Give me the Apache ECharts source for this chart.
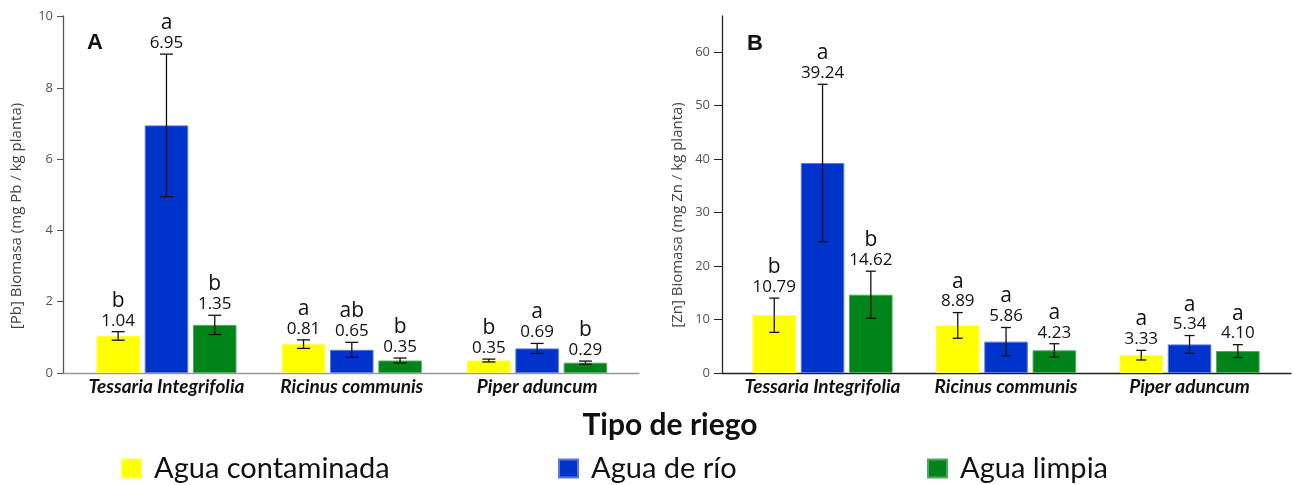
<!DOCTYPE html>
<html><head><meta charset="utf-8">
<script src="https://cdn.jsdelivr.net/npm/echarts@6/dist/echarts.min.js"></script>
<style>html,body{margin:0;padding:0;background:#fff}#c{width:1294px;height:485px}</style>
</head><body><div id="c"></div>
<script>
// ---------- data ----------
const categories = ['Tessaria Integrifolia', 'Ricinus communis', 'Piper aduncum'];
const seriesNames = ['Agua contaminada', 'Agua de río', 'Agua limpia'];
const seriesColors = ['#FFFF00', '#0033CC', '#008318'];
const seriesBorders = ['#FFFF40', '#5a78dd', '#4fa860'];

// Panel A: [Pb]
const pbContaminada = [1.04, 0.81, 0.35];
const pbRio = [6.95, 0.65, 0.69];
const pbLimpia = [1.35, 0.35, 0.29];
const pbErrContaminada = [0.12, 0.12, 0.04];
const pbErrRio = [2.0, 0.21, 0.14];
const pbErrLimpia = [0.27, 0.07, 0.045];
const pbLetContaminada = ['b', 'a', 'b'];
const pbLetRio = ['a', 'ab', 'a'];
const pbLetLimpia = ['b', 'b', 'b'];
const pbTicks = [0, 2, 4, 6, 8, 10];

// Panel B: [Zn]
const znContaminada = [10.79, 8.89, 3.33];
const znRio = [39.24, 5.86, 5.34];
const znLimpia = [14.62, 4.23, 4.10];
const znErrContaminada = [3.2, 2.4, 0.9];
const znErrRio = [14.7, 2.64, 1.66];
const znErrLimpia = [4.4, 1.24, 1.2];
const znLetContaminada = ['b', 'a', 'a'];
const znLetRio = ['a', 'a', 'a'];
const znLetLimpia = ['b', 'a', 'a'];
const znTicks = [0, 10, 20, 30, 40, 50, 60];

// ---------- style constants ----------
const BAR_W = 43.5;
const BAR_GAP = 0.11;
const PB_MAX = 10.02;
const ZN_MAX = 66.7;
const TOP = 16;
const BOTTOM = 112;

const chart = echarts.init(document.getElementById('c'), null, {renderer: 'canvas'});

function barSeries(idx, values, axisIdx) {
  return {
    type: 'bar', name: seriesNames[idx], data: values,
    xAxisIndex: axisIdx, yAxisIndex: axisIdx,
    barWidth: BAR_W, barGap: (BAR_GAP * 100) + '%',
    itemStyle: {color: seriesColors[idx], borderColor: seriesBorders[idx], borderWidth: 1},
    silent: true, z: 2
  };
}

function errSeries(idx, means, errs, letters, axisIdx, capW) {
  return {
    type: 'custom', xAxisIndex: axisIdx, yAxisIndex: axisIdx, z: 5, silent: true,
    data: means.map((m, i) => [i, m, errs[i]]),
    renderItem: function (params, api) {
      const i = api.value(0), m = api.value(1), e = api.value(2);
      const c = api.coord([i, m]);
      const x = c[0] + (idx - 1) * (BAR_W * (1 + BAR_GAP));
      const yTop = api.coord([i, m + e])[1];
      const yBot = api.coord([i, m - e])[1];
      const st = {stroke: '#111', lineWidth: 1.3};
      return {
        type: 'group', children: [
          {type: 'line', shape: {x1: x, y1: yTop, x2: x, y2: yBot}, style: st},
          {type: 'line', shape: {x1: x - capW / 2, y1: yTop, x2: x + capW / 2, y2: yTop}, style: st},
          {type: 'line', shape: {x1: x - capW / 2, y1: yBot, x2: x + capW / 2, y2: yBot}, style: st},
          {type: 'text', x: x, y: yTop - 2, style: {
            text: '{l|' + letters[params.dataIndex] + '}\n{v|' + m.toFixed(2) + '}',
            align: 'center', verticalAlign: 'bottom',
            rich: {
              l: {fontFamily: 'Open Sans', fontSize: 21, lineHeight: 22, fill: '#111', align: 'center'},
              v: {fontFamily: 'Open Sans', fontSize: 17, lineHeight: 18, fill: '#111', align: 'center'}
            }
          }}
        ]
      };
    }
  };
}

const tickLabel = {fontFamily: 'Open Sans', fontSize: 13, color: '#555'};
const catLabel = {interval: 0, fontFamily: 'Lato', fontStyle: 'italic', fontWeight: 'bold', fontSize: 19, color: '#111', margin: 4};

const option = {
  animation: false,
  backgroundColor: '#fff',
  title: [
    {text: 'A', left: 82, top: 27, textStyle: {fontFamily: 'Liberation Sans', fontWeight: 'bold', fontSize: 22, color: '#111'}},
    {text: 'B', left: 742, top: 28, textStyle: {fontFamily: 'Liberation Sans', fontWeight: 'bold', fontSize: 22, color: '#111'}},
    {text: 'Tipo de riego', left: 665, top: 405, textAlign: 'center', textStyle: {fontFamily: 'Lato', fontWeight: 'bold', fontSize: 30, color: '#111'}}
  ],
  legend: [0, 1, 2].map((k, j) => ({
    data: [seriesNames[k]], left: [116, 553, 922][j], top: 449,
    icon: 'rect', itemWidth: 19, itemHeight: 18, selectedMode: false,
    textStyle: {fontFamily: 'Lato', fontSize: 29, color: '#111', padding: [0, 0, 0, 8]}
  })),
  graphic: [
    {type: 'text', x: 17, y: 216, rotation: Math.PI / 2, style: {text: '[Pb] Biomasa (mg Pb / kg planta)', align: 'center', verticalAlign: 'middle', fontFamily: 'Open Sans', fontSize: 15, fill: '#444'}},
    {type: 'text', x: 678, y: 215, rotation: Math.PI / 2, style: {text: '[Zn] Biomasa (mg Zn / kg planta)', align: 'center', verticalAlign: 'middle', fontFamily: 'Open Sans', fontSize: 15, fill: '#444'}}
  ],
  grid: [
    {left: 73.8, width: 556, top: TOP, bottom: BOTTOM},   // A bars
    {left: 63, width: 576, top: TOP, bottom: BOTTOM},     // A axes
    {left: 730.8, width: 550.5, top: TOP, bottom: BOTTOM},// B bars
    {left: 722, width: 569, top: TOP, bottom: BOTTOM}     // B axes
  ],
  xAxis: [
    {type: 'category', gridIndex: 0, data: categories, axisLine: {show: false}, axisTick: {show: false}, axisLabel: catLabel},
    {type: 'value', gridIndex: 1, min: 0, max: 1, axisLine: {show: true, lineStyle: {color: '#999', width: 1.3}}, axisTick: {show: false}, axisLabel: {show: false}, splitLine: {show: false}},
    {type: 'category', gridIndex: 2, data: categories, axisLine: {show: false}, axisTick: {show: false}, axisLabel: catLabel},
    {type: 'value', gridIndex: 3, min: 0, max: 1, axisLine: {show: true, lineStyle: {color: '#222', width: 1.3}}, axisTick: {show: false}, axisLabel: {show: false}, splitLine: {show: false}}
  ],
  yAxis: [
    {type: 'value', gridIndex: 0, min: 0, max: PB_MAX, show: false, splitLine: {show: false}},
    {type: 'value', gridIndex: 1, min: 0, max: PB_MAX,
      axisLine: {show: true, lineStyle: {color: '#555', width: 1.3}},
      axisTick: {show: true, length: 6, customValues: pbTicks, lineStyle: {color: '#555'}},
      axisLabel: Object.assign({customValues: pbTicks, margin: 10}, tickLabel),
      splitLine: {show: false}},
    {type: 'value', gridIndex: 2, min: 0, max: ZN_MAX, show: false, splitLine: {show: false}},
    {type: 'value', gridIndex: 3, min: 0, max: ZN_MAX,
      axisLine: {show: true, lineStyle: {color: '#222', width: 1.3}},
      axisTick: {show: true, length: 8, customValues: znTicks, lineStyle: {color: '#222'}},
      axisLabel: Object.assign({customValues: znTicks, margin: 12}, tickLabel),
      splitLine: {show: false}}
  ],
  series: [
    barSeries(0, pbContaminada, 0), barSeries(1, pbRio, 0), barSeries(2, pbLimpia, 0),
    errSeries(0, pbContaminada, pbErrContaminada, pbLetContaminada, 0, 13),
    errSeries(1, pbRio, pbErrRio, pbLetRio, 0, 13),
    errSeries(2, pbLimpia, pbErrLimpia, pbLetLimpia, 0, 13),
    barSeries(0, znContaminada, 2), barSeries(1, znRio, 2), barSeries(2, znLimpia, 2),
    errSeries(0, znContaminada, znErrContaminada, znLetContaminada, 2, 10),
    errSeries(1, znRio, znErrRio, znLetRio, 2, 10),
    errSeries(2, znLimpia, znErrLimpia, znLetLimpia, 2, 10)
  ]
};
chart.setOption(option);
</script>
</body></html>
